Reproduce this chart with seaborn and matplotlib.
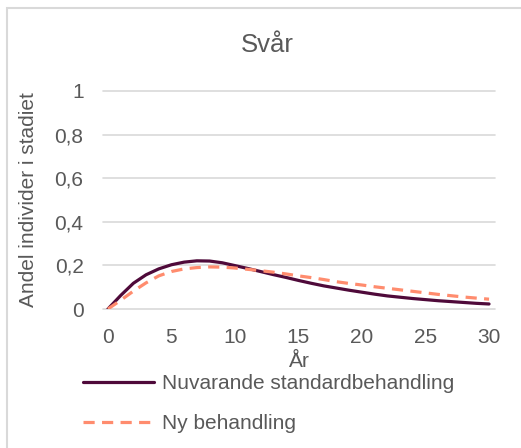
import matplotlib
matplotlib.use("Agg")
import matplotlib.pyplot as plt
from matplotlib.patches import Rectangle
import seaborn as sns
import pandas as pd

years = list(range(0, 31))
standard = [0.0, 0.062, 0.118, 0.157, 0.184, 0.203, 0.215, 0.221, 0.220, 0.212,
            0.199, 0.186, 0.172, 0.158, 0.145, 0.131, 0.118, 0.106, 0.096, 0.086,
            0.077, 0.068, 0.060, 0.054, 0.048, 0.043, 0.038, 0.034, 0.030, 0.026,
            0.023]
new_treatment = [0.0, 0.040, 0.082, 0.120, 0.152, 0.172, 0.184, 0.190, 0.193, 0.192,
                 0.188, 0.182, 0.176, 0.169, 0.161, 0.152, 0.144, 0.135, 0.125, 0.117,
                 0.110, 0.102, 0.095, 0.088, 0.081, 0.074, 0.067, 0.061, 0.055, 0.050,
                 0.045]
series_names = ["Nuvarande standardbehandling", "Ny behandling"]
y_ticks = [0, 0.2, 0.4, 0.6, 0.8, 1.0]
y_tick_labels = ["0", "0,2", "0,4", "0,6", "0,8", "1"]
x_ticks = [0, 5, 10, 15, 20, 25, 30]

df = pd.DataFrame({
    "År": years * 2,
    "Andel": standard + new_treatment,
    "Behandling": [series_names[0]] * len(years) + [series_names[1]] * len(years),
})

sns.set_theme(style="white")
plt.rcParams["font.family"] = ["Liberation Sans", "DejaVu Sans"]

text_col = "#595959"
grid_col = "#d9d9d9"
fs = 15

fig = plt.figure(figsize=(5.21, 4.48), dpi=100)
ax = fig.add_axes([103 / 521, 1 - 309 / 448, 392 / 521, 218 / 448])

palette = {series_names[0]: "#4f0a3a", series_names[1]: "#ff8c6e"}
dashes = {series_names[0]: "", series_names[1]: (3.5, 2.3)}
sns.lineplot(data=df, x="År", y="Andel", hue="Behandling", style="Behandling",
             palette=palette, dashes=dashes, linewidth=2.3, ax=ax, legend=True,
             zorder=3)

ax.set_xlim(-0.39, 30.47)
ax.set_ylim(0, 1)
ax.set_yticks(y_ticks)
ax.set_yticklabels(y_tick_labels)
ax.set_xticks(x_ticks)
ax.set_xticklabels([str(t) for t in x_ticks])
ax.tick_params(axis="both", length=0, labelsize=fs, labelcolor=text_col)
ax.tick_params(axis="y", pad=14)
ax.tick_params(axis="x", pad=14)
for s in ax.spines.values():
    s.set_visible(False)
for yv in y_ticks:
    ax.axhline(yv, color=grid_col, linewidth=1.2, zorder=1, clip_on=False)

ax.set_xlabel("År", fontsize=fs, color=text_col, labelpad=3)
ax.set_ylabel("Andel individer i stadiet", fontsize=fs, color=text_col, labelpad=12)
fig.text(267 / 521, 1 - 45 / 448, "Svår", fontsize=18.5, color=text_col,
         ha="center", va="center")

handles, labels = ax.get_legend_handles_labels()
ax.get_legend().remove()
fig.legend(handles, labels, loc="upper left",
           bbox_to_anchor=(83 / 521, 1 - 374 / 448), frameon=False,
           fontsize=fs, labelcolor=text_col, handlelength=3.4,
           handletextpad=0.4, labelspacing=1.0, borderpad=0, borderaxespad=0)

fig.patches.append(Rectangle((7 / 521, -0.1), 1.2, 1 - 8 / 448 + 0.1,
                             transform=fig.transFigure, fill=False,
                             edgecolor=grid_col, linewidth=1.5))

fig.savefig("out.png", dpi=100)
